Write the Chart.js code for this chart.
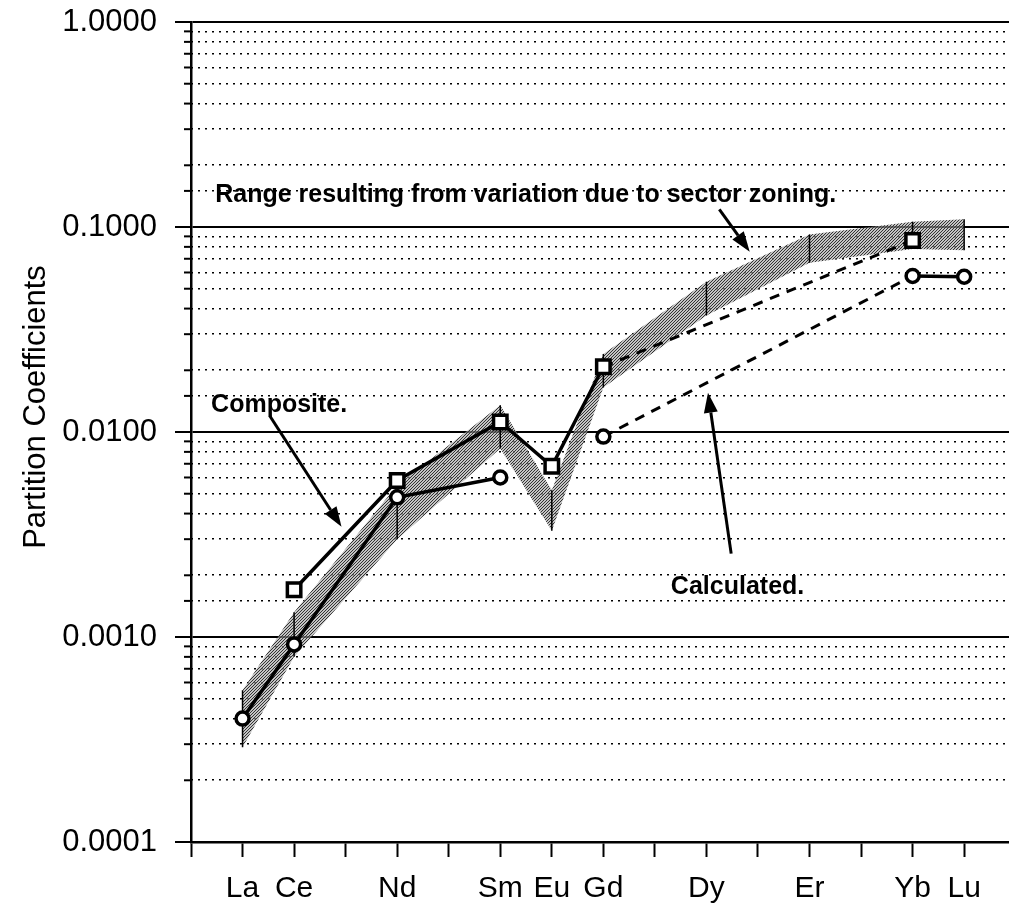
<!DOCTYPE html>
<html>
<head>
<meta charset="utf-8">
<script src="https://cdn.jsdelivr.net/npm/chart.js@4.4.1/dist/chart.umd.min.js"></script>
<style>
  html, body { margin: 0; padding: 0; background: #fff; overflow: hidden; }
  canvas { display: block; }
</style>
</head>
<body>
<canvas id="chart" width="1009" height="915"></canvas>
<script>
// REE in order, x position = index + 1 (0 is the y axis)
const ree = ['La','Ce','Pr','Nd','Pm','Sm','Eu','Gd','Tb','Dy','Ho','Er','Tm','Yb','Lu'];
const shownLabels = ['La','Ce','Nd','Sm','Eu','Gd','Dy','Er','Yb','Lu'];

// composite (squares)
const compositeEls = ['Ce','Nd','Sm','Eu','Gd','Yb'];
const compositeVals = [0.0017, 0.0058, 0.0112, 0.0068, 0.0208, 0.086];

// calculated (circles), Eu missing
const calcEls = ['La','Ce','Nd','Sm','Eu','Gd','Yb','Lu'];
const calcVals = [0.0004, 0.00092, 0.0048, 0.0060, null, 0.0095, 0.0577, 0.0572];

// range from sector zoning
const rangeEls = ['La','Ce','Nd','Sm','Eu','Gd','Dy','Er','Yb','Lu'];
const rangeHi = [0.00055, 0.00132, 0.0055, 0.0135, 0.0052, 0.024, 0.054, 0.092, 0.106, 0.109];
const rangeLo = [0.00029, 0.0008, 0.0030, 0.0083, 0.0033, 0.0165, 0.037, 0.067, 0.078, 0.077];

// notes, in chart units (x = element position, y = value)
const notes = [
  { text: 'Range resulting from variation due to sector zoning.', x: 0.47, y: 0.1324 },
  { text: 'Composite.', x: 0.39, y: 0.01252 },
  { text: 'Calculated.', x: 9.31, y: 0.00162 }
];
const arrows = [
  { x1: 10.25, y1: 0.122, x2: 10.84, y2: 0.0758 },
  { x1: 1.53, y1: 0.01197, x2: 2.92, y2: 0.00345 },
  { x1: 10.48, y1: 0.00255, x2: 10.03, y2: 0.01555 }
];

const xOf = e => ree.indexOf(e) + 1;
const isMajor = v => Math.abs(Math.log10(v) - Math.round(Math.log10(v))) < 1e-6;

Chart.defaults.font.family = '"Liberation Sans", Arial, sans-serif';
Chart.defaults.color = '#000';

const canvas = document.getElementById('chart');
const ctx = canvas.getContext('2d');

// gray stipple for the band
function makeHatch() {
  const c = document.createElement('canvas');
  c.width = 3; c.height = 3;
  const g = c.getContext('2d');
  g.fillStyle = 'rgba(165,165,165,0.65)';
  g.fillRect(0, 0, 3, 3);
  g.fillStyle = '#333';
  for (let i = 0; i < 3; i++) g.fillRect(i, 2 - i, 1, 1);
  return ctx.createPattern(c, 'repeat');
}

// error bars at each measured element
let barPts = [];
rangeEls.forEach((e, i) => {
  barPts.push({ x: xOf(e), y: rangeLo[i] }, { x: xOf(e), y: rangeHi[i] }, { x: xOf(e), y: null });
});

// no extra room for edge labels
function noPad(s) {
  s.paddingTop = 0; s.paddingBottom = 0; s.paddingLeft = 0; s.paddingRight = 0;
}

const notesPlugin = {
  id: 'notes',
  afterDraw(c) {
    const g = c.ctx;
    const sx = c.scales.x, sy = c.scales.y;
    const area = c.chartArea;
    g.save();

    // minor ticks on y axis
    g.strokeStyle = '#000';
    g.lineWidth = 2;
    sy.ticks.forEach(t => {
      if (isMajor(t.value)) return;
      const y = sy.getPixelForValue(t.value);
      g.beginPath();
      g.moveTo(area.left - 7, y);
      g.lineTo(area.left, y);
      g.stroke();
    });

    // y title
    g.save();
    g.translate(36, (area.top + area.bottom) / 2 - 25);
    g.rotate(-Math.PI / 2);
    g.font = '31px "Liberation Sans", Arial, sans-serif';
    g.textAlign = 'center';
    g.textBaseline = 'middle';
    g.fillStyle = '#000';
    g.fillText('Partition Coefficients', 0, 0);
    g.restore();

    // text notes
    g.font = 'bold 25px "Liberation Sans", Arial, sans-serif';
    g.fillStyle = '#000';
    g.textAlign = 'left';
    g.textBaseline = 'alphabetic';
    notes.forEach(n => {
      g.fillText(n.text, sx.getPixelForValue(n.x), sy.getPixelForValue(n.y));
    });

    // arrows
    g.lineWidth = 3;
    arrows.forEach(a => {
      const x1 = sx.getPixelForValue(a.x1), y1 = sy.getPixelForValue(a.y1);
      const x2 = sx.getPixelForValue(a.x2), y2 = sy.getPixelForValue(a.y2);
      const ang = Math.atan2(y2 - y1, x2 - x1);
      const len = 20, w = 7;
      const bx = x2 - len * Math.cos(ang), by = y2 - len * Math.sin(ang);
      g.beginPath();
      g.moveTo(x1, y1);
      g.lineTo(bx, by);
      g.stroke();
      g.beginPath();
      g.moveTo(x2, y2);
      g.lineTo(bx + w * Math.sin(ang), by - w * Math.cos(ang));
      g.lineTo(bx - w * Math.sin(ang), by + w * Math.cos(ang));
      g.closePath();
      g.fill();
    });
    g.restore();
  }
};

new Chart(ctx, {
  type: 'line',
  data: {
    datasets: [
      {
        // band top
        data: rangeEls.map((e, i) => ({ x: xOf(e), y: rangeHi[i] })),
        borderColor: 'rgba(0,0,0,0)',
        borderWidth: 1,
        pointRadius: 0,
        backgroundColor: makeHatch(),
        fill: '+1',
        order: 5
      },
      {
        // band bottom
        data: rangeEls.map((e, i) => ({ x: xOf(e), y: rangeLo[i] })),
        borderColor: 'rgba(0,0,0,0)',
        borderWidth: 1,
        pointRadius: 0,
        fill: false,
        order: 5
      },
      {
        data: barPts,
        borderColor: '#000',
        borderWidth: 1.5,
        pointRadius: 0,
        spanGaps: false,
        fill: false,
        order: 4
      },
      {
        label: 'Composite',
        data: compositeEls.map((e, i) => ({ x: xOf(e), y: compositeVals[i] })),
        borderColor: '#000',
        borderWidth: 3.5,
        pointStyle: 'rect',
        pointRadius: 9.5,
        pointBorderWidth: 3.5,
        pointBackgroundColor: '#fff',
        pointBorderColor: '#000',
        fill: false,
        segment: {
          borderDash: s => compositeEls[s.p0DataIndex] === 'Gd' ? [10, 8] : undefined,
          borderWidth: s => compositeEls[s.p0DataIndex] === 'Gd' ? 3 : undefined
        },
        order: 1
      },
      {
        label: 'Calculated',
        data: calcEls.map((e, i) => ({ x: xOf(e), y: calcVals[i] })),
        borderColor: '#000',
        borderWidth: 3.5,
        pointStyle: 'circle',
        pointRadius: 6.5,
        pointBorderWidth: 3.5,
        pointBackgroundColor: '#fff',
        pointBorderColor: '#000',
        spanGaps: false,
        fill: false,
        segment: {
          borderDash: s => calcEls[s.p0DataIndex] === 'Gd' ? [10, 8] : undefined,
          borderWidth: s => calcEls[s.p0DataIndex] === 'Gd' ? 3 : undefined
        },
        order: 0
      }
    ]
  },
  options: {
    responsive: false,
    animation: false,
    layout: { autoPadding: false, padding: { top: 22, right: 0, left: 0, bottom: 0 } },
    plugins: { legend: { display: false }, tooltip: { enabled: false } },
    scales: {
      x: {
        type: 'linear',
        min: 0,
        max: 15.87,
        afterBuildTicks: s => { s.ticks = [{ value: 0 }].concat(ree.map(e => ({ value: xOf(e) }))); },
        afterFit: s => { s.height = 73; noPad(s); },
        ticks: {
          autoSkip: false,
          maxRotation: 0,
          padding: 14,
          font: { size: 30 },
          callback: v => {
            const e = ree[v - 1];
            return shownLabels.includes(e) ? e : '';
          }
        },
        grid: { drawOnChartArea: false, drawTicks: true, tickLength: 15, tickWidth: 2, tickColor: '#000' },
        border: { color: '#000', width: 2.5 }
      },
      y: {
        type: 'logarithmic',
        position: 'left',
        min: 0.0001,
        max: 1,
        afterFit: s => { s.width = 191; noPad(s); },
        ticks: {
          autoSkip: false,
          padding: 18,
          font: { size: 31 },
          callback: v => isMajor(v) ? v.toFixed(4) : ''
        },
        grid: {
          color: c => isMajor(c.tick.value) ? '#000' : 'rgba(0,0,0,0)',
          tickColor: c => isMajor(c.tick.value) ? '#000' : 'rgba(0,0,0,0)',
          lineWidth: 2,
          tickWidth: 2,
          tickLength: 16
        },
        border: { color: '#000', width: 2.5 }
      },
      y2: {
        // dotted minor gridlines
        type: 'logarithmic',
        position: 'right',
        min: 0.0001,
        max: 1,
        afterFit: s => { s.width = 0; noPad(s); },
        ticks: { display: false },
        grid: {
          color: c => isMajor(c.tick.value) ? 'rgba(0,0,0,0)' : '#000',
          lineWidth: 1.6,
          drawTicks: false
        },
        border: { display: false, dash: [2, 5] }
      }
    }
  },
  plugins: [notesPlugin]
});
</script>
</body>
</html>
